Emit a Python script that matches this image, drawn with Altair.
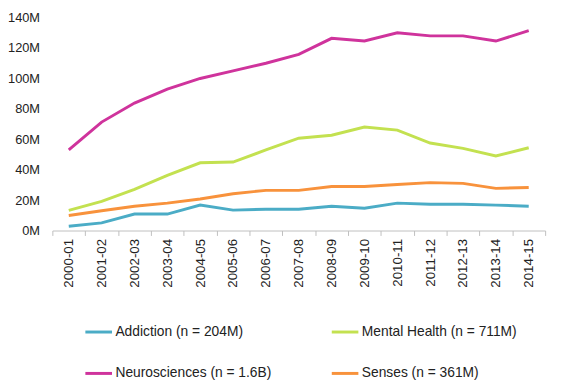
import altair as alt
import pandas as pd

years = ["2000-01", "2001-02", "2002-03", "2003-04", "2004-05", "2005-06", "2006-07",
         "2007-08", "2008-09", "2009-10", "2010-11", "2011-12", "2012-13", "2013-14", "2014-15"]

addiction = [2.8, 5.0, 10.8, 10.8, 16.7, 13.4, 14.0, 14.0, 16.0, 14.7, 18.0, 17.3, 17.3, 16.7, 16.0]
mental_health = [13.2, 19.2, 27.0, 36.3, 44.5, 45.0, 53.0, 60.7, 62.7, 68.0, 66.0, 57.5, 54.0, 49.0, 54.4]
neurosciences = [53.0, 71.3, 83.8, 93.0, 100.0, 105.0, 110.0, 115.8, 126.4, 124.6, 130.0, 128.0, 128.0, 124.6, 131.4]
senses = [9.9, 13.0, 16.0, 18.0, 20.7, 24.2, 26.4, 26.4, 29.0, 29.0, 30.3, 31.5, 31.0, 27.7, 28.3]

series_names = ["Addiction (n = 204M)", "Mental Health (n = 711M)",
                "Neurosciences (n = 1.6B)", "Senses (n = 361M)"]
series_values = [addiction, mental_health, neurosciences, senses]
colors = ["#4BACC6", "#C3E150", "#CF339C", "#F8923C"]
y_ticks = [0, 20, 40, 60, 80, 100, 120, 140]

rows = []
for name, vals in zip(series_names, series_values):
    for yr, v in zip(years, vals):
        rows.append({"year": yr, "value": v, "series": name})
df = pd.DataFrame(rows)

chart = alt.Chart(df).mark_line(strokeWidth=3).encode(
    x=alt.X("year:N", sort=years, bandPosition=0.5,
            scale=alt.Scale(type="band", paddingInner=0, paddingOuter=0),
            axis=alt.Axis(title=None, labelAngle=270, tickBand="extent", tickSize=5,
                          domainColor="#BFBFBF", tickColor="#BFBFBF", labelPadding=3,
                          labelFont="Liberation Sans", labelFontSize=13.5, labelColor="#222222",
                          grid=False)),
    y=alt.Y("value:Q", scale=alt.Scale(domain=[0, 140]),
            axis=alt.Axis(title=None, values=y_ticks, labelExpr="datum.value + 'M'",
                          domain=False, ticks=False, grid=False, labelPadding=13,
                          labelFont="Liberation Sans", labelFontSize=13, labelColor="#222222")),
    color=alt.Color("series:N", sort=series_names,
                    scale=alt.Scale(domain=series_names, range=colors),
                    legend=alt.Legend(title=None, orient="none", legendX=32, legendY=304,
                                      direction="horizontal",
                                      columns=2, columnPadding=54, rowPadding=20,
                                      symbolType="stroke", symbolSize=729, symbolStrokeWidth=3,
                                      labelOffset=2, labelFont="Liberation Sans",
                                      labelFontSize=14, labelColor="#222222", labelLimit=300)),
).properties(
    width=500, height=216,
    autosize=alt.AutoSizeParams(type="none"),
    padding={"left": 45, "top": 7, "right": 10, "bottom": 155},
).configure_view(stroke=None)

chart.save("out.html", embed_options={"renderer": "svg", "actions": False})
